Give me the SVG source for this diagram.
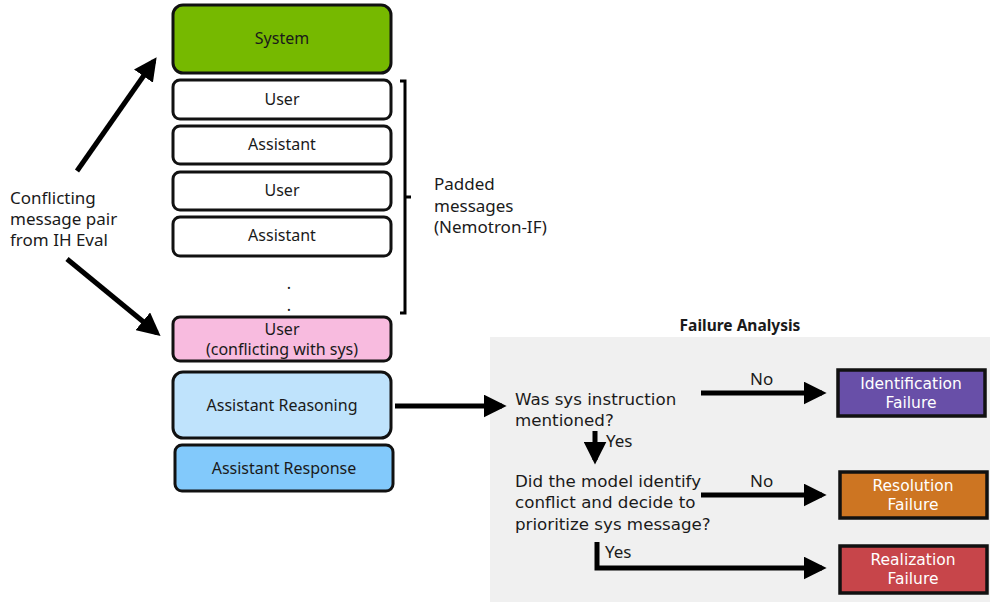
<svg xmlns="http://www.w3.org/2000/svg" width="990" height="602" viewBox="0 0 990 602">
<defs>
<style>
text{font-family:"Noto Sans","Liberation Sans",sans-serif;fill:#1a1a1a}
.box{stroke:#111;stroke-width:3}
.lbl{font-size:16px;text-anchor:middle}
.txt{font-size:17px}
.q{font-family:"DejaVu Sans","Liberation Sans",sans-serif;font-size:16.7px}
.wl{font-family:"DejaVu Sans","Liberation Sans",sans-serif;font-size:15.5px;fill:#fff;text-anchor:middle}
.fb{stroke:#111;stroke-width:3.5}
.ln{stroke:#000;stroke-width:5;fill:none}
</style>
<marker id="ah" viewBox="0 0 10 10" refX="8" refY="5" markerWidth="4.6" markerHeight="4.6" orient="auto" markerUnits="strokeWidth">
<path d="M0,0 L10,5 L0,10 z" fill="#000"/>
</marker>
</defs>
<rect x="490" y="337" width="500" height="265" fill="#f0f0f0"/>
<g id="system"><rect class="box" x="173" y="5" width="218" height="68" rx="10" fill="#76b900"/><text class="lbl" x="282" y="44">System</text></g>
<g id="user1"><rect class="box" x="173" y="80" width="218" height="39" rx="7" fill="#fff"/><text class="lbl" x="282" y="105">User</text></g>
<g id="assistant1"><rect class="box" x="173" y="126" width="218" height="38" rx="7" fill="#fff"/><text class="lbl" x="282" y="150">Assistant</text></g>
<g id="user2"><rect class="box" x="173" y="172" width="218" height="38" rx="7" fill="#fff"/><text class="lbl" x="282" y="196">User</text></g>
<g id="assistant2"><rect class="box" x="173" y="217" width="218" height="39" rx="7" fill="#fff"/><text class="lbl" x="282" y="241">Assistant</text></g>
<g id="dots"><text class="lbl" x="289" y="289">.</text><text class="lbl" x="289" y="311">.</text></g>
<g id="user-conflict"><rect class="box" x="173" y="317" width="218" height="44" rx="7" fill="#f8bbdf"/><text class="lbl" x="282" y="335">User</text><text class="lbl" x="282" y="355">(conflicting with sys)</text></g>
<g id="reasoning"><rect class="box" x="173" y="372" width="218" height="66" rx="10" fill="#bfe3fc"/><text class="lbl" x="282" y="411">Assistant Reasoning</text></g>
<g id="response"><rect class="box" x="175" y="445" width="218" height="46" rx="7" fill="#82c9fb"/><text class="lbl" x="284" y="474">Assistant Response</text></g>
<g id="bracket"><path d="M400,81 H405 V313 H400 M405,197 H411" fill="none" stroke="#000" stroke-width="3"/></g>
<g id="padded"><text class="txt" x="434" y="190">Padded</text><text class="txt" x="434" y="212">messages</text><text class="txt" x="434" y="233">(Nemotron-IF)</text></g>
<g id="source"><text class="txt" x="10" y="204">Conflicting</text><text class="txt" x="10" y="225">message pair</text><text class="txt" x="10" y="246">from IH Eval</text></g>
<text x="740" y="331" font-size="15.5" font-weight="bold" text-anchor="middle">Failure Analysis</text>
<g id="q1"><text class="q" x="515" y="405">Was sys instruction</text><text class="q" x="515" y="426">mentioned?</text></g>
<g id="q2"><text class="q" x="515" y="487">Did the model identify</text><text class="q" x="515" y="508">conflict and decide to</text><text class="q" x="515" y="530">prioritize sys message?</text></g>
<g id="ident"><rect class="fb" x="838" y="370" width="147" height="46" fill="#684fa8"/><text class="wl" x="911" y="389">Identification</text><text class="wl" x="911" y="408">Failure</text></g>
<g id="resol"><rect class="fb" x="840" y="472" width="147" height="46" fill="#cd7522"/><text class="wl" x="913" y="491">Resolution</text><text class="wl" x="913" y="510">Failure</text></g>
<g id="real"><rect class="fb" x="840" y="546" width="147" height="47" fill="#c7454a"/><text class="wl" x="913" y="565">Realization</text><text class="wl" x="913" y="584">Failure</text></g>
<g id="connectors">
<line class="ln" x1="77" y1="171" x2="154" y2="61" marker-end="url(#ah)"/>
<line class="ln" x1="67" y1="259" x2="157" y2="333" marker-end="url(#ah)"/>
<line class="ln" x1="395" y1="406" x2="502" y2="406" marker-end="url(#ah)"/>
<line class="ln" x1="701" y1="393" x2="822" y2="393" marker-end="url(#ah)"/>
<line class="ln" x1="595" y1="431" x2="595" y2="460" marker-end="url(#ah)"/>
<line class="ln" x1="701" y1="495" x2="822" y2="495" marker-end="url(#ah)"/>
<path class="ln" d="M597,542 V568 H822" marker-end="url(#ah)"/>
<text class="txt" x="750" y="385">No</text>
<text class="txt" x="750" y="487">No</text>
<text class="txt" x="606" y="447">Yes</text>
<text class="txt" x="605" y="558">Yes</text>
</g>
</svg>
